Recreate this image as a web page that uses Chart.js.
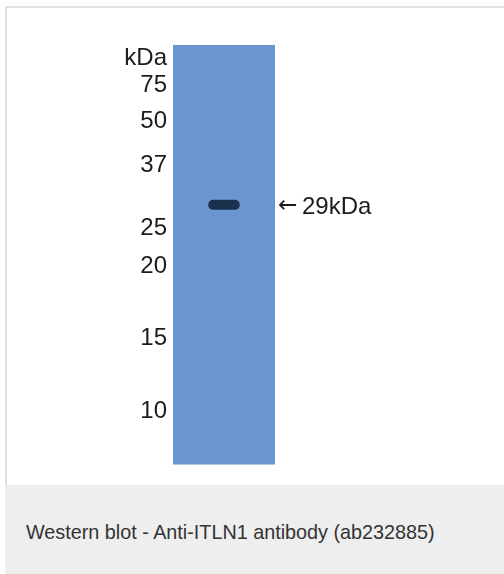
<!DOCTYPE html>
<html>
<head>
<meta charset="utf-8">
<script src="https://cdn.jsdelivr.net/npm/chart.js@4"></script>
<style>
  html, body { margin: 0; padding: 0; background: #ffffff; width: 504px; height: 574px; overflow: hidden; }
  #frame { position: absolute; left: 5px; top: 6px; width: 520px; height: 477px;
           border-left: 2px solid #e1e1e1; border-top: 2px solid #e1e1e1; border-bottom: 2px solid #e1e1e1; }
  #wrap { position: absolute; left: 0; top: 0; width: 504px; height: 485px; }
  #caption { position: absolute; left: 5px; top: 485px; width: 499px; height: 89px; background: #edeeed;
             font-family: "Liberation Sans", Arial, sans-serif; font-size: 19.8px; color: #333333; }
  #caption span { position: absolute; left: 21px; top: 36px; white-space: nowrap; }
</style>
</head>
<body>
<div id="frame"></div>
<div id="wrap"><canvas id="c" width="504" height="485"></canvas></div>
<div id="caption"><span>Western blot - Anti-ITLN1 antibody (ab232885)</span></div>
<script>
// Data (migration distance from top of lane, arbitrary units)
const lanes = ['Lane 1'];
const laneLength = 420;
const markerLabels = ['kDa', '75', '50', '37', '25', '20', '15', '10'];
const markerPositions = [11, 38, 74, 118, 182, 220, 292, 365];
const bandLabels = ['29kDa'];
const bandArrows = ['\u2190'];
const bandPositions = [160];
const bandThickness = [10];

const fontFamily = '"Liberation Sans", Arial, sans-serif';
const hiddenGrid = { display: false, drawTicks: false };

const chart = new Chart(document.getElementById('c'), {
  type: 'bar',
  data: {
    labels: lanes,
    datasets: [
      {
        label: 'Band',
        data: bandPositions.map((p, i) => [p - bandThickness[i] / 2, p + bandThickness[i] / 2]),
        backgroundColor: '#1a3150',
        borderWidth: 0,
        borderRadius: 6,
        borderSkipped: false,
        barPercentage: 0.31,
        categoryPercentage: 1,
        grouped: false,
        yAxisID: 'y'
      },
      {
        label: 'Lane',
        data: lanes.map(() => [0, laneLength]),
        backgroundColor: '#6b96d0',
        borderColor: '#6590c9',
        borderWidth: 1,
        borderSkipped: false,
        barPercentage: 1,
        categoryPercentage: 1,
        grouped: false,
        yAxisID: 'y'
      }
    ]
  },
  options: {
    responsive: false,
    animation: false,
    events: [],
    layout: { padding: { top: 45, bottom: 20, left: 0, right: 0 } },
    plugins: { legend: { display: false }, tooltip: { enabled: false }, title: { display: false } },
    scales: {
      x: { display: false, offset: true },
      y: {
        position: 'left',
        reverse: true,
        min: 0,
        max: laneLength,
        grid: hiddenGrid,
        border: { display: false },
        afterFit: (s) => { s.width = 173; },
        afterBuildTicks: (s) => { s.ticks = markerPositions.map(v => ({ value: v })); },
        ticks: {
          autoSkip: false,
          padding: 6,
          labelOffset: 2,
          color: '#1c1c1c',
          font: { family: fontFamily, size: 24 },
          callback: (v, i) => markerLabels[i]
        }
      },
      yArrow: {
        position: 'right',
        weight: 0,
        reverse: true,
        min: 0,
        max: laneLength,
        grid: hiddenGrid,
        border: { display: false },
        afterFit: (s) => { s.width = 24; },
        afterBuildTicks: (s) => { s.ticks = bandPositions.map(v => ({ value: v })); },
        ticks: {
          autoSkip: false,
          padding: 3,
          labelOffset: 1,
          color: '#1c1c1c',
          font: { family: '"DejaVu Sans", sans-serif', size: 23 },
          callback: (v, i) => bandArrows[i]
        }
      },
      yLabel: {
        position: 'right',
        weight: 1,
        reverse: true,
        min: 0,
        max: laneLength,
        grid: hiddenGrid,
        border: { display: false },
        afterFit: (s) => { s.width = 205; },
        afterBuildTicks: (s) => { s.ticks = bandPositions.map(v => ({ value: v })); },
        ticks: {
          autoSkip: false,
          padding: 3,
          labelOffset: 3,
          color: '#1c1c1c',
          font: { family: fontFamily, size: 24 },
          callback: (v, i) => bandLabels[i]
        }
      }
    }
  }
});
</script>
</body>
</html>
